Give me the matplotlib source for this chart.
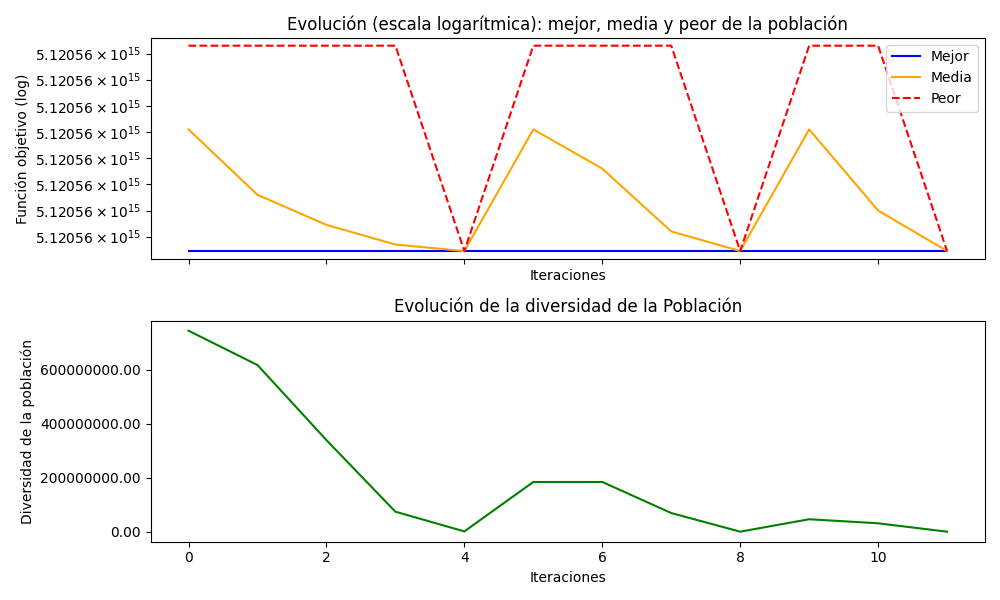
import matplotlib
matplotlib.use("Agg")
import matplotlib.pyplot as plt
from matplotlib.ticker import FuncFormatter, NullLocator, FixedLocator, FormatStrFormatter

iters = list(range(12))
mejor = [5.120559999945e15]*12
media = [5.12056000041e15, 5.12056000016e15, 5.120560000045e15, 5.12055999997e15,
         5.120559999945e15, 5.12056000041e15, 5.12056000026e15, 5.12056000002e15,
         5.120559999945e15, 5.12056000041e15, 5.12056000010e15, 5.120559999945e15]
peor = [5.12056000073e15]*4 + [5.120559999945e15] + [5.12056000073e15]*3 + \
       [5.120559999945e15] + [5.12056000073e15]*2 + [5.120559999945e15]
diversidad = [745e6, 618e6, 340e6, 75e6, 2e6, 185e6, 185e6, 70e6, 1e6, 47e6, 32e6, 1e6]
base = 5.12056e15
step = 1e5

fig, (ax1, ax2) = plt.subplots(2, 1, figsize=(10, 6), dpi=100, sharex=True)
ax1.plot(iters, mejor, color='blue', label='Mejor')
ax1.plot(iters, media, color='orange', label='Media')
ax1.plot(iters, peor, color='red', linestyle='--', label='Peor')
ax1.set_yscale('log')
ax1.set_ylim(base - 0.85*step, base + 7.6*step)
ax1.yaxis.set_major_locator(FixedLocator([base + k*step for k in range(8)]))
ax1.yaxis.set_minor_locator(NullLocator())
ax1.yaxis.set_major_formatter(FuncFormatter(lambda v, p: r'$5.12056\times10^{15}$'))
ax1.set_title('Evolución (escala logarítmica): mejor, media y peor de la población')
ax1.set_xlabel('Iteraciones')
ax1.set_ylabel('Función objetivo (log)')
ax1.legend(loc='upper right')

ax2.plot(iters, diversidad, color='green')
ax2.yaxis.set_major_formatter(FormatStrFormatter('%.2f'))
ax2.set_title('Evolución de la diversidad de la Población')
ax2.set_xlabel('Iteraciones')
ax2.set_ylabel('Diversidad de la población')
ax2.tick_params(labelbottom=True)

fig.tight_layout()
fig.savefig('out.png')
